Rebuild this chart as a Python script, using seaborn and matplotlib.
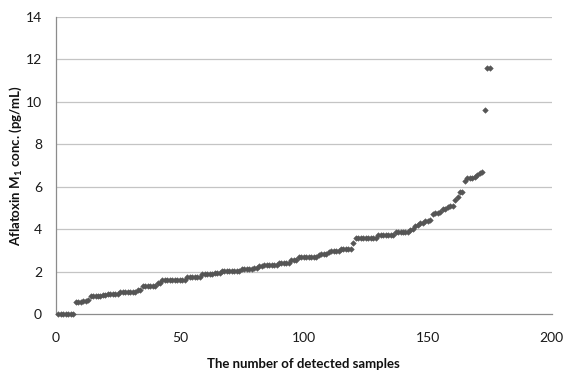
import matplotlib
matplotlib.use("Agg")
import matplotlib.pyplot as plt
import seaborn as sns
import pandas as pd

# Sorted Aflatoxin M1 concentrations (pg/mL) for each detected sample
conc_values = [
    0, 0, 0, 0, 0, 0, 0,
    0.60, 0.60, 0.60, 0.61, 0.62, 0.66,
    0.88, 0.88, 0.89, 0.89, 0.89, 0.90, 0.90,
    0.96, 0.97, 0.97, 0.97, 0.98,
    1.04, 1.05, 1.05, 1.05, 1.06, 1.06, 1.07,
    1.13, 1.15,
    1.33, 1.34, 1.34, 1.34, 1.35, 1.36,
    1.48, 1.49,
    1.60, 1.60, 1.61, 1.61, 1.61, 1.61, 1.62, 1.62, 1.62, 1.63,
    1.76, 1.77, 1.77, 1.77, 1.78, 1.78,
    1.91, 1.91, 1.92, 1.92, 1.92, 1.93, 1.93, 1.94,
    2.02, 2.02, 2.03, 2.03, 2.03, 2.04, 2.04, 2.05,
    2.15, 2.15, 2.16, 2.16, 2.16, 2.17, 2.17,
    2.30, 2.30, 2.31, 2.31, 2.31, 2.32, 2.32, 2.33,
    2.41, 2.42, 2.42, 2.43, 2.43,
    2.54, 2.55, 2.56,
    2.69, 2.69, 2.70, 2.70, 2.70, 2.71, 2.71, 2.72,
    2.82, 2.83, 2.83, 2.84,
    2.96, 2.97, 2.97, 2.98, 2.98,
    3.07, 3.08, 3.08, 3.09, 3.09,
    3.36,
    3.60, 3.60, 3.61, 3.61, 3.61, 3.61, 3.62, 3.62, 3.62,
    3.74, 3.74, 3.75, 3.75, 3.75, 3.76, 3.76,
    3.87, 3.87, 3.88, 3.88, 3.89, 3.89,
    3.98, 4.02,
    4.18, 4.22, 4.28, 4.32,
    4.38, 4.42, 4.45,
    4.72, 4.75, 4.77,
    4.82,
    4.94, 4.97,
    5.07, 5.08, 5.10,
    5.37,
    5.52,
    5.74, 5.78,
    6.27,
    6.41, 6.43, 6.43, 6.45,
    6.54,
    6.66, 6.68,
    9.60,
    11.60, 11.62,
]
sample_index = list(range(1, len(conc_values) + 1))

x_ticks = [0, 50, 100, 150, 200]
y_ticks = [0, 2, 4, 6, 8, 10, 12, 14]
x_label = "The number of detected samples"
y_label = "Aflatoxin M$_\\mathregular{1}$ conc. (pg/mL)"

df = pd.DataFrame({"sample": sample_index, "conc": conc_values})

sns.set_style("white")
plt.rcParams["font.family"] = ["Lato", "DejaVu Sans"]

fig = plt.figure(figsize=(5.70, 3.77), dpi=100)
ax = fig.add_axes([0.098, 0.166, 0.870, 0.789])

for y in y_ticks[1:]:
    ax.axhline(y, color="#c4c4c4", lw=0.9, zorder=0)

sns.scatterplot(data=df, x="sample", y="conc", ax=ax, marker="D", s=8,
                color="#555555", edgecolor="#555555", linewidth=0.4, zorder=3,
                clip_on=False)

ax.set_xlim(0, 200)
ax.set_ylim(0, 14)
ax.set_xticks(x_ticks)
ax.set_yticks(y_ticks)
ax.tick_params(axis="both", direction="out", length=4, width=0.8,
               color="#8c8c8c", labelsize=10, labelcolor="#1a1a1a", pad=6)
ax.tick_params(axis="x", pad=9)
for side in ["top", "right"]:
    ax.spines[side].set_visible(False)
for side in ["left", "bottom"]:
    ax.spines[side].set_color("#8c8c8c")
    ax.spines[side].set_linewidth(0.9)

ax.set_xlabel(x_label, fontsize=9.5, fontweight="bold", color="#111111")
ax.set_ylabel(y_label, fontsize=9.5, fontweight="bold", color="#111111")
ax.xaxis.set_label_coords(0.5, -0.145)
ax.yaxis.set_label_coords(-0.064, 0.5)

fig.savefig("out.png", dpi=100)
